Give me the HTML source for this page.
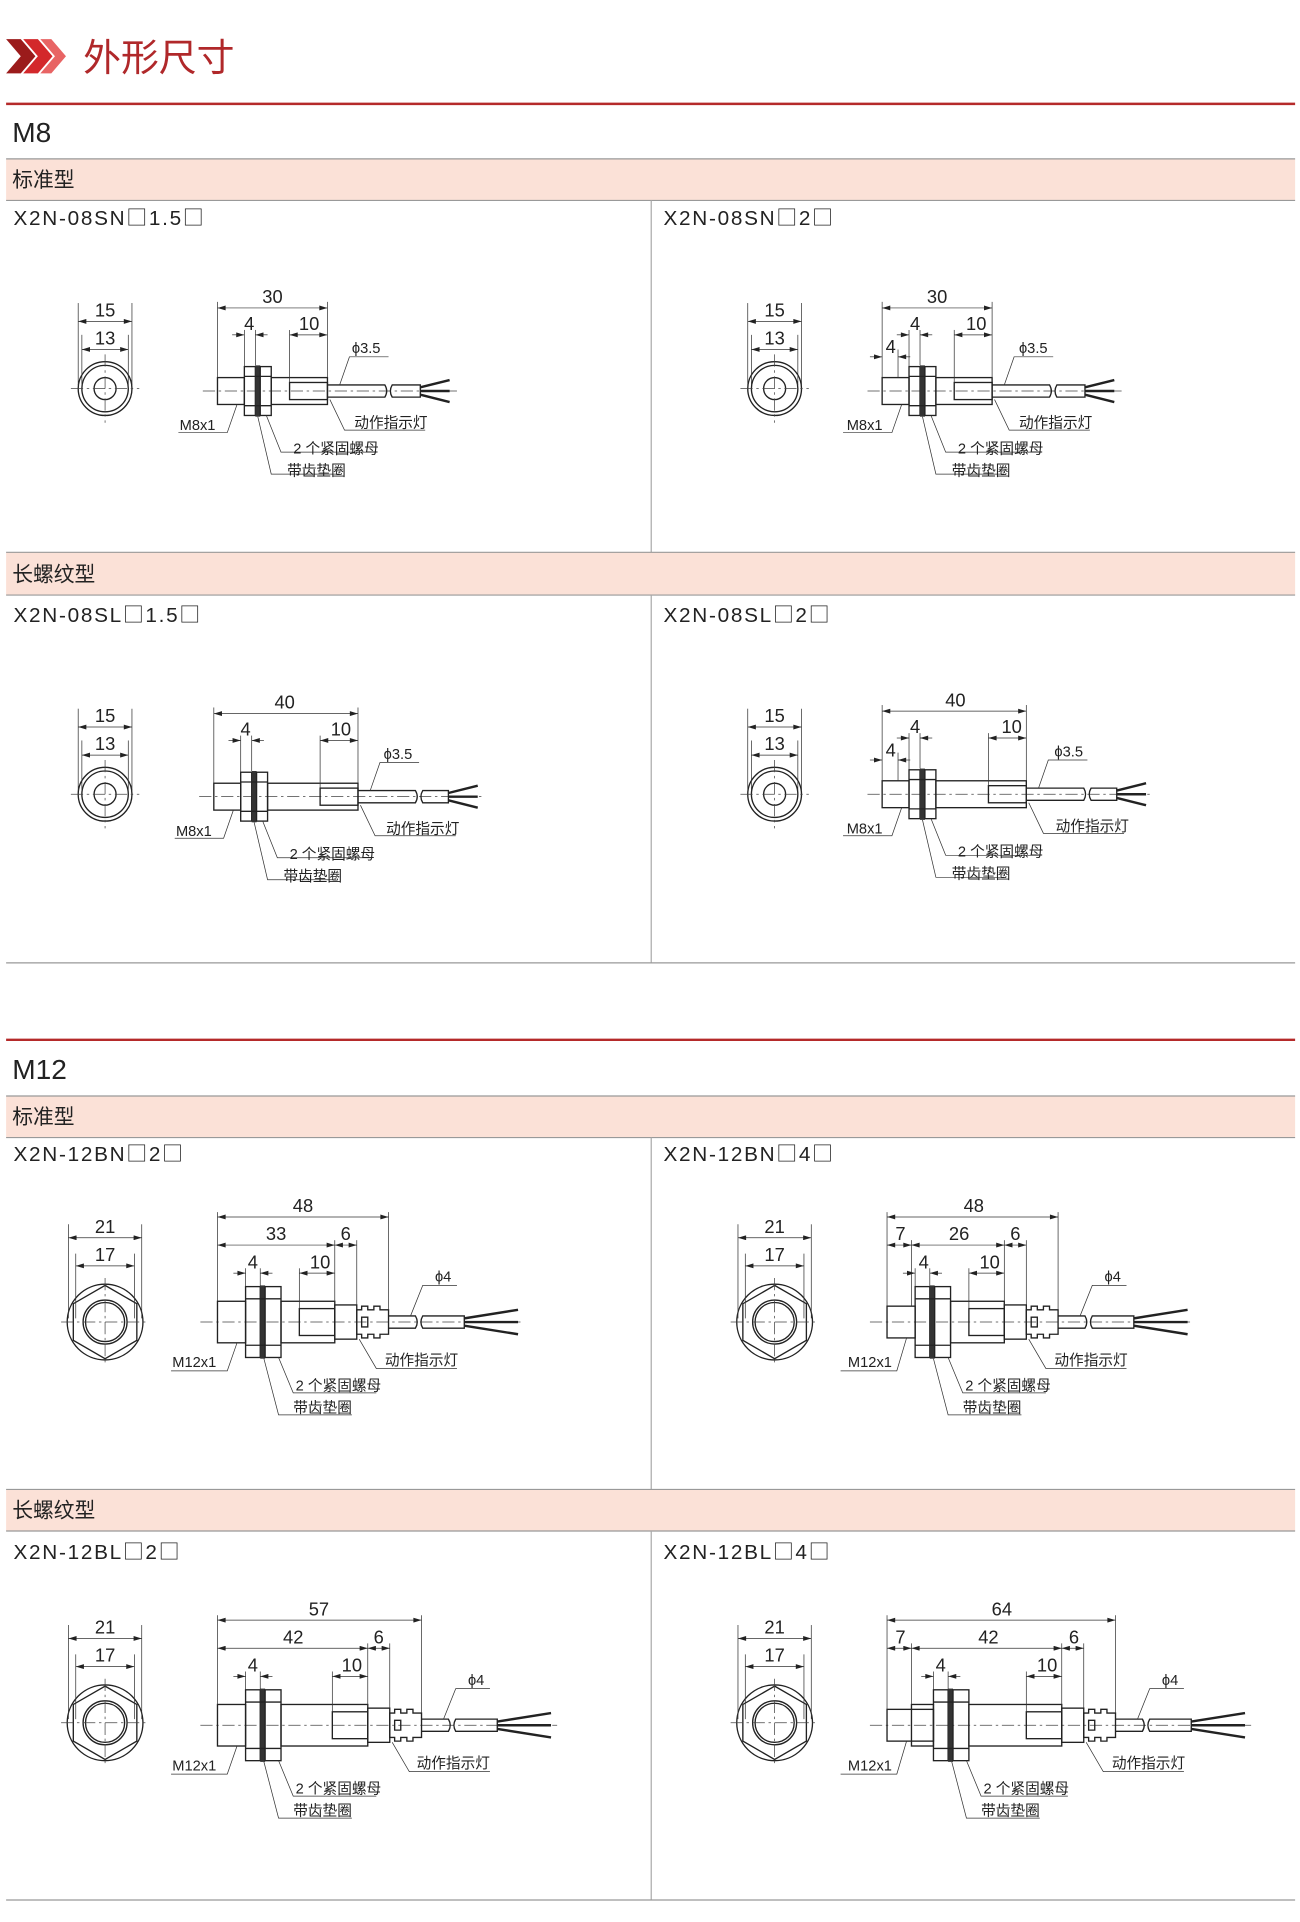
<!DOCTYPE html>
<html><head><meta charset="utf-8"><style>
html,body{margin:0;padding:0;background:#fff}
svg{display:block}
text{font-family:"Liberation Sans","Noto Sans CJK SC",sans-serif;fill:#222}
.o{fill:none;stroke:#222;stroke-width:1.1}
.t{stroke:#333;stroke-width:0.6;fill:none}
.d{stroke:#333;stroke-width:0.6;fill:none;marker-start:url(#a);marker-end:url(#a)}
.e{stroke:#333;stroke-width:0.6;fill:none;marker-end:url(#a)}
.c{stroke:#444;stroke-width:0.6;stroke-dasharray:10 3 2 3;fill:none}
.w{stroke:#222;stroke-width:2;fill:none}
.n{font-size:15px}
.s{font-size:12px}
.m{font-size:17px;letter-spacing:1.4px}
.q{font-family:"Noto Sans CJK SC",sans-serif;font-size:17px}
.h{font-size:17px}
</style></head><body>
<svg width="1300" height="1922" viewBox="0 0 1064 1573" xmlns="http://www.w3.org/2000/svg">
<defs>
<marker id="a" viewBox="0 0 10 6" refX="10" refY="3" markerUnits="userSpaceOnUse" markerWidth="7" markerHeight="4" orient="auto-start-reverse"><path d="M0,0L10,3L0,6z" fill="#222"/></marker>

<g id="f8">
<circle r="22" class="o" stroke-width="2.2"/><circle r="19" class="o"/><circle r="9" class="o" stroke-width="1.6"/>
<line x1="-28" x2="28" class="c"/><line y1="-28" y2="28" class="c"/>
<line x1="-22" y1="-3" x2="-22" y2="-70" class="t"/><line x1="22" y1="-3" x2="22" y2="-70" class="t"/>
<line x1="-19" y1="-3" x2="-19" y2="-44" class="t"/><line x1="19" y1="-3" x2="19" y2="-44" class="t"/>
<line x1="-22" y1="-55" x2="22" y2="-55" class="d"/><line x1="-19" y1="-32" x2="19" y2="-32" class="d"/>
</g>

<g id="f12">
<circle r="31" class="o" stroke-width="1.6"/>
<path d="M0,-30 L26,-15 L26,15 L0,30 L-26,15 L-26,-15Z" class="o" stroke-width="1.4"/>
<circle r="18" class="o" stroke-width="1.6"/><circle r="16" class="o"/>
<line x1="-36" x2="36" class="c"/><line y1="-36" y2="36" class="c"/>
<line x1="-30" y1="-3" x2="-30" y2="-80" class="t"/><line x1="30" y1="-3" x2="30" y2="-80" class="t"/>
<line x1="-24" y1="-3" x2="-24" y2="-56" class="t"/><line x1="24" y1="-3" x2="24" y2="-56" class="t"/>
<line x1="-30" y1="-69" x2="30" y2="-69" class="d"/><line x1="-24" y1="-46" x2="24" y2="-46" class="d"/>
</g>

<g id="s8">
<line x1="-12" x2="196" class="c"/>
<rect x="0" y="-11" width="22" height="22" class="o"/>
<rect x="22" y="-20" width="9" height="40" class="o"/>
<rect x="31" y="-21" width="4" height="42" fill="#333"/>
<rect x="35" y="-20" width="9" height="40" class="o"/>
<line x1="22" y1="-12" x2="44" y2="-12" class="o"/><line x1="22" y1="12" x2="44" y2="12" class="o"/>
<rect x="44" y="-11" width="46" height="22" class="o"/>
<rect x="59" y="-7" width="31" height="14" class="o"/>
<path d="M90,-5 H137 q3,5 0,10 H90" class="o"/>
<path d="M143,-5 q-3,5 0,10 H166 V-5Z" class="o"/>
<line x1="166" y1="-3" x2="190" y2="-9" class="w"/><line x1="166" y1="0" x2="190" y2="0" class="w"/><line x1="166" y1="3" x2="190" y2="9" class="w"/>
<line x1="0" y1="-11" x2="0" y2="-73" class="t"/><line x1="90" y1="-11" x2="90" y2="-73" class="t"/>
<line x1="0" y1="-68" x2="90" y2="-68" class="d"/>
<line x1="22" y1="-20" x2="22" y2="-50" class="t"/><line x1="31" y1="-21" x2="31" y2="-50" class="t"/>
<line x1="12" y1="-46" x2="22" y2="-46" class="e"/><line x1="41" y1="-46" x2="31" y2="-46" class="e"/>
<line x1="59" y1="-7" x2="59" y2="-50" class="t"/>
<line x1="59" y1="-46" x2="90" y2="-46" class="d"/>
<path d="M100,-5 L108,-28 H140" class="t"/>
<path d="M16,11 L8,34 H-32" class="t"/>
<path d="M40,20 L52,50 H128" class="t"/>
<path d="M33,21 L44,68 H100" class="t"/>
<path d="M92,7 L104,32 H170" class="t"/>
</g>

<g id="l8">
<line x1="-12" x2="222" class="c"/>
<rect x="0" y="-11" width="22" height="22" class="o"/>
<rect x="22" y="-20" width="9" height="40" class="o"/>
<rect x="31" y="-21" width="4" height="42" fill="#333"/>
<rect x="35" y="-20" width="9" height="40" class="o"/>
<line x1="22" y1="-12" x2="44" y2="-12" class="o"/><line x1="22" y1="12" x2="44" y2="12" class="o"/>
<rect x="44" y="-11" width="74" height="22" class="o"/>
<rect x="87" y="-7" width="31" height="14" class="o"/>
<path d="M118,-5 H165 q3,5 0,10 H118" class="o"/>
<path d="M171,-5 q-3,5 0,10 H192 V-5Z" class="o"/>
<line x1="192" y1="-3" x2="216" y2="-9" class="w"/><line x1="192" y1="0" x2="216" y2="0" class="w"/><line x1="192" y1="3" x2="216" y2="9" class="w"/>
<line x1="0" y1="-11" x2="0" y2="-73" class="t"/><line x1="118" y1="-11" x2="118" y2="-73" class="t"/>
<line x1="0" y1="-68" x2="118" y2="-68" class="d"/>
<line x1="22" y1="-20" x2="22" y2="-50" class="t"/><line x1="31" y1="-21" x2="31" y2="-50" class="t"/>
<line x1="12" y1="-46" x2="22" y2="-46" class="e"/><line x1="41" y1="-46" x2="31" y2="-46" class="e"/>
<line x1="87" y1="-7" x2="87" y2="-50" class="t"/>
<line x1="87" y1="-46" x2="118" y2="-46" class="d"/>
<path d="M128,-5 L136,-28 H168" class="t"/>
<path d="M16,11 L8,34 H-32" class="t"/>
<path d="M40,20 L52,50 H128" class="t"/>
<path d="M33,21 L44,68 H100" class="t"/>
<path d="M120,7 L132,32 H198" class="t"/>
</g>
</defs>

<path d="M5,32 L17,32 L29,46 L17,60 L5,60 L17,46Z" fill="#9b1b1b"/>
<path d="M19,32 L31,32 L43,46 L31,60 L19,60 L31,46Z" fill="#d3282b"/>
<path d="M33,32 L42,32 L54,46 L42,60 L33,60 L45,46Z" fill="#e86464"/>
<text x="68" y="58" style="font-size:31px;fill:#b0282a">外形尺寸</text>
<line x1="5" y1="85" x2="1060" y2="85" stroke="#b52a2a" stroke-width="2"/>

<text x="10" y="116" style="font-size:23px">M8</text>
<rect x="5" y="130" width="1055" height="34" fill="#fbe1d7"/>
<line x1="5" y1="130" x2="1060" y2="130" stroke="#999"/><line x1="5" y1="164" x2="1060" y2="164" stroke="#999"/>
<text x="10" y="153" class="h">标准型</text>
<line x1="533" y1="164" x2="533" y2="452" stroke="#aaa"/>
<text x="11" y="184" class="m">X2N-08SN<tspan class="q">□</tspan>1.5<tspan class="q">□</tspan></text>
<text x="543" y="184" class="m">X2N-08SN<tspan class="q">□</tspan>2<tspan class="q">□</tspan></text>

<g transform="translate(86,318)"><use href="#f8"/><text x="0" y="-59" class="n" text-anchor="middle">15</text><text x="0" y="-36" class="n" text-anchor="middle">13</text></g>
<g transform="translate(178,320)"><use href="#s8"/>
<text x="45" y="-72" class="n" text-anchor="middle">30</text><text x="26" y="-50" class="n" text-anchor="middle">4</text><text x="75" y="-50" class="n" text-anchor="middle">10</text>
<text x="110" y="-31" class="s">ϕ3.5</text>
<text x="-31" y="32" class="s">M8x1</text><text x="62" y="51" class="s">2 个紧固螺母</text><text x="57" y="69" class="s">带齿垫圈</text><text x="112" y="30" class="s">动作指示灯</text></g>

<g transform="translate(634,318)"><use href="#f8"/><text x="0" y="-59" class="n" text-anchor="middle">15</text><text x="0" y="-36" class="n" text-anchor="middle">13</text></g>
<g transform="translate(722,320)"><use href="#s8"/>
<line x1="13" y1="-11" x2="13" y2="-34" class="t"/>
<line x1="-10" y1="-28" x2="0" y2="-28" class="e"/><line x1="23" y1="-28" x2="13" y2="-28" class="e"/>
<text x="7" y="-31" class="n" text-anchor="middle">4</text>
<text x="45" y="-72" class="n" text-anchor="middle">30</text><text x="27" y="-50" class="n" text-anchor="middle">4</text><text x="77" y="-50" class="n" text-anchor="middle">10</text>
<text x="112" y="-31" class="s">ϕ3.5</text>
<text x="-29" y="32" class="s">M8x1</text><text x="62" y="51" class="s">2 个紧固螺母</text><text x="57" y="69" class="s">带齿垫圈</text><text x="112" y="30" class="s">动作指示灯</text></g>

<rect x="5" y="452" width="1055" height="35" fill="#fbe1d7"/>
<line x1="5" y1="452" x2="1060" y2="452" stroke="#999"/><line x1="5" y1="487" x2="1060" y2="487" stroke="#999"/>
<text x="10" y="476" class="h">长螺纹型</text>
<line x1="533" y1="487" x2="533" y2="788" stroke="#aaa"/>
<text x="11" y="509" class="m">X2N-08SL<tspan class="q">□</tspan>1.5<tspan class="q">□</tspan></text>
<text x="543" y="509" class="m">X2N-08SL<tspan class="q">□</tspan>2<tspan class="q">□</tspan></text>

<g transform="translate(86,650)"><use href="#f8"/><text x="0" y="-59" class="n" text-anchor="middle">15</text><text x="0" y="-36" class="n" text-anchor="middle">13</text></g>
<g transform="translate(175,652)"><use href="#l8"/>
<text x="58" y="-72" class="n" text-anchor="middle">40</text><text x="26" y="-50" class="n" text-anchor="middle">4</text><text x="104" y="-50" class="n" text-anchor="middle">10</text>
<text x="139" y="-31" class="s">ϕ3.5</text>
<text x="-31" y="32" class="s">M8x1</text><text x="62" y="51" class="s">2 个紧固螺母</text><text x="57" y="69" class="s">带齿垫圈</text><text x="141" y="30" class="s">动作指示灯</text></g>

<g transform="translate(634,650)"><use href="#f8"/><text x="0" y="-59" class="n" text-anchor="middle">15</text><text x="0" y="-36" class="n" text-anchor="middle">13</text></g>
<g transform="translate(722,650)"><use href="#l8"/>
<line x1="13" y1="-11" x2="13" y2="-34" class="t"/>
<line x1="-10" y1="-28" x2="0" y2="-28" class="e"/><line x1="23" y1="-28" x2="13" y2="-28" class="e"/>
<text x="7" y="-31" class="n" text-anchor="middle">4</text>
<text x="60" y="-72" class="n" text-anchor="middle">40</text><text x="27" y="-50" class="n" text-anchor="middle">4</text><text x="106" y="-50" class="n" text-anchor="middle">10</text>
<text x="141" y="-31" class="s">ϕ3.5</text>
<text x="-29" y="32" class="s">M8x1</text><text x="62" y="51" class="s">2 个紧固螺母</text><text x="57" y="69" class="s">带齿垫圈</text><text x="142" y="30" class="s">动作指示灯</text></g>

<line x1="5" y1="788" x2="1060" y2="788" stroke="#999"/>

<line x1="5" y1="851" x2="1060" y2="851" stroke="#b52a2a" stroke-width="2"/>
<text x="10" y="883" style="font-size:23px">M12</text>
<rect x="5" y="897" width="1055" height="34" fill="#fbe1d7"/>
<line x1="5" y1="897" x2="1060" y2="897" stroke="#999"/><line x1="5" y1="931" x2="1060" y2="931" stroke="#999"/>
<text x="10" y="920" class="h">标准型</text>
<line x1="533" y1="931" x2="533" y2="1219" stroke="#aaa"/>
<text x="11" y="950" class="m">X2N-12BN<tspan class="q">□</tspan>2<tspan class="q">□</tspan></text>
<text x="543" y="950" class="m">X2N-12BN<tspan class="q">□</tspan>4<tspan class="q">□</tspan></text>

<g transform="translate(86,1082)"><use href="#f12"/><text x="0" y="-73" class="n" text-anchor="middle">21</text><text x="0" y="-50" class="n" text-anchor="middle">17</text></g>
<g transform="translate(178,1082)">
<line x1="-14" x2="250" class="c"/>
<rect x="0" y="-17" width="23" height="34" class="o"/>
<rect x="23" y="-29" width="12" height="58" class="o"/><rect x="35" y="-30" width="4" height="60" fill="#333"/><rect x="39" y="-29" width="13" height="58" class="o"/>
<line x1="23" y1="-19" x2="52" y2="-19" class="o"/><line x1="23" y1="19" x2="52" y2="19" class="o"/>
<rect x="52" y="-17" width="44" height="34" class="o"/>
<rect x="67" y="-11" width="29" height="22" class="o"/>
<rect x="96" y="-14" width="18" height="28" class="o"/>
<path d="M114,-10 h4 v-3 h5 v3 h5 v-3 h5 v3 h7 v20 h-7 v3 h-5 v-3 h-5 v3 h-5 v-3 h-4z M118,-4 h5 v8 h-5z" class="o"/>
<path d="M140,-5 H162 q3,5 0,10 H140" class="o"/>
<path d="M168,-5 q-3,5 0,10 H202 V-5Z" class="o"/>
<line x1="202" y1="-3" x2="246" y2="-10" class="w"/><line x1="202" y1="0" x2="246" y2="0" class="w"/><line x1="202" y1="3" x2="246" y2="10" class="w"/>
<line x1="0" y1="-17" x2="0" y2="-90" class="t"/><line x1="140" y1="-10" x2="140" y2="-90" class="t"/>
<line x1="0" y1="-86" x2="140" y2="-86" class="d"/>
<line x1="96" y1="-14" x2="96" y2="-67" class="t"/><line x1="114" y1="-14" x2="114" y2="-67" class="t"/>
<line x1="0" y1="-63" x2="96" y2="-63" class="d"/><line x1="96" y1="-63" x2="114" y2="-63" class="d"/>
<line x1="23" y1="-29" x2="23" y2="-44" class="t"/><line x1="35" y1="-29" x2="35" y2="-44" class="t"/>
<line x1="13" y1="-40" x2="23" y2="-40" class="e"/><line x1="45" y1="-40" x2="35" y2="-40" class="e"/>
<line x1="67" y1="-11" x2="67" y2="-44" class="t"/><line x1="67" y1="-40" x2="96" y2="-40" class="d"/>
<path d="M158,-5 L168,-30 H196" class="t"/>
<path d="M16,17 L8,40 H-38" class="t"/><path d="M50,29 L62,58 H130" class="t"/><path d="M38,30 L50,76 H110" class="t"/><path d="M116,14 L130,38 H196" class="t"/>
<text x="70" y="-90" class="n" text-anchor="middle">48</text><text x="48" y="-67" class="n" text-anchor="middle">33</text><text x="105" y="-67" class="n" text-anchor="middle">6</text>
<text x="29" y="-44" class="n" text-anchor="middle">4</text><text x="84" y="-44" class="n" text-anchor="middle">10</text>
<text x="178" y="-33" class="s">ϕ4</text>
<text x="-37" y="37" class="s">M12x1</text><text x="64" y="56" class="s">2 个紧固螺母</text><text x="62" y="74" class="s">带齿垫圈</text><text x="137" y="35" class="s">动作指示灯</text>
</g>

<g transform="translate(634,1082)"><use href="#f12"/><text x="0" y="-73" class="n" text-anchor="middle">21</text><text x="0" y="-50" class="n" text-anchor="middle">17</text></g>
<g transform="translate(726,1082)">
<line x1="-14" x2="250" class="c"/>
<rect x="0" y="-13" width="23" height="26" class="o"/>
<rect x="23" y="-29" width="12" height="58" class="o"/><rect x="35" y="-30" width="4" height="60" fill="#333"/><rect x="39" y="-29" width="13" height="58" class="o"/>
<line x1="23" y1="-19" x2="52" y2="-19" class="o"/><line x1="23" y1="19" x2="52" y2="19" class="o"/>
<rect x="52" y="-17" width="44" height="34" class="o"/>
<rect x="67" y="-11" width="29" height="22" class="o"/>
<rect x="96" y="-14" width="18" height="28" class="o"/>
<path d="M114,-10 h4 v-3 h5 v3 h5 v-3 h5 v3 h7 v20 h-7 v3 h-5 v-3 h-5 v3 h-5 v-3 h-4z M118,-4 h5 v8 h-5z" class="o"/>
<path d="M140,-5 H162 q3,5 0,10 H140" class="o"/>
<path d="M168,-5 q-3,5 0,10 H202 V-5Z" class="o"/>
<line x1="202" y1="-3" x2="246" y2="-10" class="w"/><line x1="202" y1="0" x2="246" y2="0" class="w"/><line x1="202" y1="3" x2="246" y2="10" class="w"/>
<line x1="0" y1="-13" x2="0" y2="-90" class="t"/><line x1="140" y1="-10" x2="140" y2="-90" class="t"/>
<line x1="0" y1="-86" x2="140" y2="-86" class="d"/>
<line x1="20" y1="-13" x2="20" y2="-67" class="t"/>
<line x1="96" y1="-14" x2="96" y2="-67" class="t"/><line x1="114" y1="-14" x2="114" y2="-67" class="t"/>
<line x1="0" y1="-63" x2="20" y2="-63" class="d"/><line x1="20" y1="-63" x2="96" y2="-63" class="d"/><line x1="96" y1="-63" x2="114" y2="-63" class="d"/>
<line x1="23" y1="-29" x2="23" y2="-44" class="t"/><line x1="35" y1="-29" x2="35" y2="-44" class="t"/>
<line x1="13" y1="-40" x2="23" y2="-40" class="e"/><line x1="45" y1="-40" x2="35" y2="-40" class="e"/>
<line x1="67" y1="-11" x2="67" y2="-44" class="t"/><line x1="67" y1="-40" x2="96" y2="-40" class="d"/>
<path d="M158,-5 L168,-30 H196" class="t"/>
<path d="M16,13 L8,40 H-38" class="t"/><path d="M50,29 L62,58 H130" class="t"/><path d="M38,30 L50,76 H110" class="t"/><path d="M116,14 L130,38 H196" class="t"/>
<text x="71" y="-90" class="n" text-anchor="middle">48</text><text x="11" y="-67" class="n" text-anchor="middle">7</text><text x="59" y="-67" class="n" text-anchor="middle">26</text><text x="105" y="-67" class="n" text-anchor="middle">6</text>
<text x="30" y="-44" class="n" text-anchor="middle">4</text><text x="84" y="-44" class="n" text-anchor="middle">10</text>
<text x="178" y="-33" class="s">ϕ4</text>
<text x="-32" y="37" class="s">M12x1</text><text x="64" y="56" class="s">2 个紧固螺母</text><text x="62" y="74" class="s">带齿垫圈</text><text x="137" y="35" class="s">动作指示灯</text>
</g>

<rect x="5" y="1219" width="1055" height="34" fill="#fbe1d7"/>
<line x1="5" y1="1219" x2="1060" y2="1219" stroke="#999"/><line x1="5" y1="1253" x2="1060" y2="1253" stroke="#999"/>
<text x="10" y="1242" class="h">长螺纹型</text>
<line x1="533" y1="1253" x2="533" y2="1555" stroke="#aaa"/>
<text x="11" y="1276" class="m">X2N-12BL<tspan class="q">□</tspan>2<tspan class="q">□</tspan></text>
<text x="543" y="1276" class="m">X2N-12BL<tspan class="q">□</tspan>4<tspan class="q">□</tspan></text>

<g transform="translate(86,1410)"><use href="#f12"/><text x="0" y="-73" class="n" text-anchor="middle">21</text><text x="0" y="-50" class="n" text-anchor="middle">17</text></g>
<g transform="translate(178,1412)">
<line x1="-14" x2="278" class="c"/>
<rect x="0" y="-17" width="23" height="34" class="o"/>
<rect x="23" y="-29" width="12" height="58" class="o"/><rect x="35" y="-30" width="4" height="60" fill="#333"/><rect x="39" y="-29" width="13" height="58" class="o"/>
<line x1="23" y1="-19" x2="52" y2="-19" class="o"/><line x1="23" y1="19" x2="52" y2="19" class="o"/>
<rect x="52" y="-17" width="71" height="34" class="o"/>
<rect x="94" y="-11" width="29" height="22" class="o"/>
<rect x="123" y="-14" width="18" height="28" class="o"/>
<path d="M141,-10 h4 v-3 h5 v3 h5 v-3 h5 v3 h7 v20 h-7 v3 h-5 v-3 h-5 v3 h-5 v-3 h-4z M145,-4 h5 v8 h-5z" class="o"/>
<path d="M167,-5 H189 q3,5 0,10 H167" class="o"/>
<path d="M195,-5 q-3,5 0,10 H229 V-5Z" class="o"/>
<line x1="229" y1="-3" x2="273" y2="-10" class="w"/><line x1="229" y1="0" x2="273" y2="0" class="w"/><line x1="229" y1="3" x2="273" y2="10" class="w"/>
<line x1="0" y1="-17" x2="0" y2="-90" class="t"/><line x1="167" y1="-10" x2="167" y2="-90" class="t"/>
<line x1="0" y1="-86" x2="167" y2="-86" class="d"/>
<line x1="123" y1="-14" x2="123" y2="-67" class="t"/><line x1="141" y1="-14" x2="141" y2="-67" class="t"/>
<line x1="0" y1="-63" x2="123" y2="-63" class="d"/><line x1="123" y1="-63" x2="141" y2="-63" class="d"/>
<line x1="23" y1="-29" x2="23" y2="-44" class="t"/><line x1="35" y1="-29" x2="35" y2="-44" class="t"/>
<line x1="13" y1="-40" x2="23" y2="-40" class="e"/><line x1="45" y1="-40" x2="35" y2="-40" class="e"/>
<line x1="94" y1="-11" x2="94" y2="-44" class="t"/><line x1="94" y1="-40" x2="123" y2="-40" class="d"/>
<path d="M185,-5 L195,-30 H223" class="t"/>
<path d="M16,17 L8,40 H-38" class="t"/><path d="M50,29 L62,58 H130" class="t"/><path d="M38,30 L50,76 H110" class="t"/><path d="M143,14 L157,38 H223" class="t"/>
<text x="83" y="-90" class="n" text-anchor="middle">57</text><text x="62" y="-67" class="n" text-anchor="middle">42</text><text x="132" y="-67" class="n" text-anchor="middle">6</text>
<text x="29" y="-44" class="n" text-anchor="middle">4</text><text x="110" y="-44" class="n" text-anchor="middle">10</text>
<text x="205" y="-33" class="s">ϕ4</text>
<text x="-37" y="37" class="s">M12x1</text><text x="64" y="56" class="s">2 个紧固螺母</text><text x="62" y="74" class="s">带齿垫圈</text><text x="163" y="35" class="s">动作指示灯</text>
</g>

<g transform="translate(634,1410)"><use href="#f12"/><text x="0" y="-73" class="n" text-anchor="middle">21</text><text x="0" y="-50" class="n" text-anchor="middle">17</text></g>
<g transform="translate(726,1412)">
<line x1="-14" x2="298" class="c"/>
<rect x="0" y="-13" width="38" height="26" class="o"/>
<rect x="38" y="-29" width="12" height="58" class="o"/><rect x="50" y="-30" width="4" height="60" fill="#333"/><rect x="54" y="-29" width="13" height="58" class="o"/>
<line x1="38" y1="-19" x2="67" y2="-19" class="o"/><line x1="38" y1="19" x2="67" y2="19" class="o"/>
<rect x="20" y="-17" width="18" height="34" class="o"/>
<rect x="67" y="-17" width="76" height="34" class="o"/>
<rect x="114" y="-11" width="29" height="22" class="o"/>
<rect x="143" y="-14" width="18" height="28" class="o"/>
<path d="M161,-10 h4 v-3 h5 v3 h5 v-3 h5 v3 h7 v20 h-7 v3 h-5 v-3 h-5 v3 h-5 v-3 h-4z M165,-4 h5 v8 h-5z" class="o"/>
<path d="M187,-5 H209 q3,5 0,10 H187" class="o"/>
<path d="M215,-5 q-3,5 0,10 H249 V-5Z" class="o"/>
<line x1="249" y1="-3" x2="293" y2="-10" class="w"/><line x1="249" y1="0" x2="293" y2="0" class="w"/><line x1="249" y1="3" x2="293" y2="10" class="w"/>
<line x1="0" y1="-13" x2="0" y2="-90" class="t"/><line x1="187" y1="-10" x2="187" y2="-90" class="t"/>
<line x1="0" y1="-86" x2="187" y2="-86" class="d"/>
<line x1="20" y1="-17" x2="20" y2="-67" class="t"/>
<line x1="143" y1="-14" x2="143" y2="-67" class="t"/><line x1="161" y1="-14" x2="161" y2="-67" class="t"/>
<line x1="0" y1="-63" x2="20" y2="-63" class="d"/><line x1="20" y1="-63" x2="143" y2="-63" class="d"/><line x1="143" y1="-63" x2="161" y2="-63" class="d"/>
<line x1="38" y1="-29" x2="38" y2="-44" class="t"/><line x1="50" y1="-29" x2="50" y2="-44" class="t"/>
<line x1="28" y1="-40" x2="38" y2="-40" class="e"/><line x1="60" y1="-40" x2="50" y2="-40" class="e"/>
<line x1="114" y1="-11" x2="114" y2="-44" class="t"/><line x1="114" y1="-40" x2="143" y2="-40" class="d"/>
<path d="M205,-5 L215,-30 H243" class="t"/>
<path d="M16,13 L8,40 H-38" class="t"/><path d="M65,29 L77,58 H148" class="t"/><path d="M53,30 L65,76 H125" class="t"/><path d="M163,14 L177,38 H243" class="t"/>
<text x="94" y="-90" class="n" text-anchor="middle">64</text><text x="11" y="-67" class="n" text-anchor="middle">7</text><text x="83" y="-67" class="n" text-anchor="middle">42</text><text x="153" y="-67" class="n" text-anchor="middle">6</text>
<text x="44" y="-44" class="n" text-anchor="middle">4</text><text x="131" y="-44" class="n" text-anchor="middle">10</text>
<text x="225" y="-33" class="s">ϕ4</text>
<text x="-32" y="37" class="s">M12x1</text><text x="79" y="56" class="s">2 个紧固螺母</text><text x="77" y="74" class="s">带齿垫圈</text><text x="184" y="35" class="s">动作指示灯</text>
</g>

<line x1="5" y1="1555" x2="1060" y2="1555" stroke="#999"/>
</svg>
</body></html>
